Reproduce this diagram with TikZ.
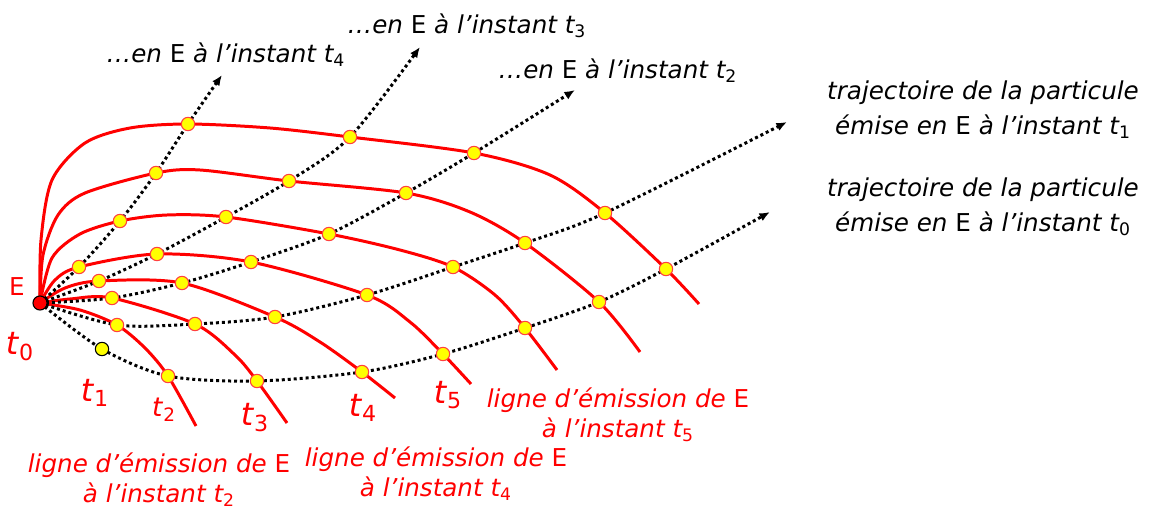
\documentclass[tikz,border=0pt]{standalone}
\usepackage{fontspec}
\setmainfont{DejaVu Sans}
\usetikzlibrary{arrows.meta}
\definecolor{emred}{RGB}{255,0,0}
\definecolor{ptyellow}{RGB}{255,255,0}
\newcommand{\tsb}[1]{\textit{t}\textsubscript{\upshape #1}}
\newcommand{\ptE}{\textup{E}}
\tikzset{
	emline/.style={draw=emred, line width=1.7pt},
	traj/.style={draw=black, line width=1.7pt, dash pattern=on 1.7pt off 1.7pt, -{Latex[length=6pt,width=5pt]}},
	pt/.style={circle, fill=ptyellow, draw=emred!75, line width=0.6pt, inner sep=0pt, minimum size=7.6pt},
	ptk/.style={pt, draw=black},
	src/.style={circle, fill=emred, draw=black, line width=0.6pt, inner sep=0pt, minimum size=8pt},
	blk/.style={align=center, font=\fontsize{14}{20}\selectfont\itshape},
	redlab/.style={align=center, text=emred, font=\fontsize{14}{17}\selectfont\itshape},
	tlab/.style={text=emred, font=\fontsize{18}{20}\selectfont}
}
\begin{document}
\begin{tikzpicture}[x=0.2mm,y=-0.2mm]
	\useasboundingbox (0,0) rectangle (1154,509) ;
	\coordinate (E) at (40,303) ;
	\coordinate (p01) at (102,349) ; \coordinate (p02) at (168,376) ; \coordinate (p03) at (257,381) ;
	\coordinate (p04) at (362,372) ; \coordinate (p05) at (443,354) ; \coordinate (p06) at (525,328) ;
	\coordinate (p07) at (599,302) ; \coordinate (p08) at (666,269) ;
	\coordinate (p12) at (117,325) ; \coordinate (p13) at (195,324) ; \coordinate (p14) at (275,317) ;
	\coordinate (p15) at (367,295) ; \coordinate (p16) at (453,267) ; \coordinate (p17) at (525,243) ;
	\coordinate (p18) at (605,213) ;
	\coordinate (p23) at (112,298) ; \coordinate (p24) at (182,283) ; \coordinate (p25) at (251,262) ;
	\coordinate (p26) at (329,234) ; \coordinate (p27) at (406,193) ; \coordinate (p28) at (474,153) ;
	\coordinate (p34) at (99,281) ; \coordinate (p35) at (157,254) ; \coordinate (p36) at (226,217) ;
	\coordinate (p37) at (289,181) ; \coordinate (p38) at (350,137) ;
	\coordinate (p45) at (79,267) ; \coordinate (p46) at (120,221) ; \coordinate (p47) at (156,173) ;
	\coordinate (p48) at (188,124) ;
	\coordinate (e2) at (196,426) ; \coordinate (e3) at (287,423) ; \coordinate (e4) at (395,398) ;
	\coordinate (e5) at (471,384) ; \coordinate (e6) at (557,370) ; \coordinate (e7) at (640,352) ;
	\coordinate (e8) at (699,304) ;
	\coordinate (a0) at (770,212) ; \coordinate (a1) at (787,122) ; \coordinate (a2) at (575,90) ;
	\coordinate (a3) at (420,47) ; \coordinate (a4) at (222,75) ;
	\draw[emline] plot[smooth] coordinates {(E) (80,310) (p12) (145,348) (p02) (e2)} ;
	\draw[emline] plot[smooth] coordinates {(E) (70,299) (p23) (p13) (235,355) (p03) (e3)} ;
	\draw[emline] plot[smooth] coordinates {(E) (65,288) (p34) (p24) (p14) (320,342) (p04) (e4)} ;
	\draw[emline] plot[smooth] coordinates {(E) (55,280) (p45) (p35) (p25) (p15) (410,322) (p05) (e5)} ;
	\draw[emline] plot[smooth] coordinates {(E) (52,258) (80,234) (p46) (167,215) (p36) (p26) (400,250) (p16) (495,295) (p06) (e6)} ;
	\draw[emline] plot[smooth] coordinates {(E) (43,255) (58,215) (85,193) (p47) (200,170) (p37) (p27) (470,212) (p17) (p07) (e7)} ;
	\draw[emline] plot[smooth] coordinates {(E) (41,240) (52,180) (85,143) (130,128) (p48) (270,128) (p38) (p28) (550,175) (p18) (p08) (e8)} ;
	\draw[traj] plot[smooth] coordinates {(E) (p01) (p02) (p03) (p04) (p05) (p06) (p07) (p08) (a0)} ;
	\draw[traj] plot[smooth] coordinates {(E) (p12) (p13) (p14) (p15) (p16) (p17) (p18) (a1)} ;
	\draw[traj] plot[smooth] coordinates {(E) (p23) (p24) (p25) (p26) (p27) (p28) (a2)} ;
	\draw[traj] plot[smooth] coordinates {(E) (p34) (p35) (p36) (p37) (p38) (a3)} ;
	\draw[traj] plot[smooth] coordinates {(E) (p45) (p46) (p47) (p48) (a4)} ;
	\node (d01)[ptk] at (p01) {} ;
	\foreach \p in {02,03,04,05,06,07,08,12,13,14,15,16,17,18,23,24,25,26,27,28,34,35,36,37,38,45,46,47,48}
		\node (d\p)[pt] at (p\p) {} ;
	\node (src)[src] at (E) {} ;
	\node (lE)[text=emred, font=\fontsize{14}{16}\selectfont] at (17,287) {E} ;
	\node (lt0)[tlab] at (20,347) {\tsb{0}} ;
	\node (lt1)[tlab] at (95,393) {\tsb{1}} ;
	\node (lt2)[tlab, font=\fontsize{15}{16}\selectfont] at (164,410) {\tsb{2}} ;
	\node (lt3)[tlab] at (255,418) {\tsb{3}} ;
	\node (lt4)[tlab] at (363,408) {\tsb{4}} ;
	\node (lt5)[tlab] at (448,395) {\tsb{5}} ;
	\node (lab4)[blk] at (226,55) {…en \ptE{} à l’instant \tsb{4}} ;
	\node (lab3)[blk] at (467,26) {…en \ptE{} à l’instant \tsb{3}} ;
	\node (lab2)[blk] at (618,71) {…en \ptE{} à l’instant \tsb{2}} ;
	\node (lab1)[blk] at (983,110) {trajectoire de la particule\\émise en \ptE{} à l’instant \tsb{1}} ;
	\node (lab0)[blk] at (983,207) {trajectoire de la particule\\émise en \ptE{} à l’instant \tsb{0}} ;
	\node (lem2)[redlab] at (159,480) {ligne d’émission de \ptE\\à l’instant \tsb{2}} ;
	\node (lem4)[redlab] at (436,474) {ligne d’émission de \ptE\\à l’instant \tsb{4}} ;
	\node (lem5)[redlab] at (618,415) {ligne d’émission de \ptE\\à l’instant \tsb{5}} ;
\end{tikzpicture}
\end{document}
